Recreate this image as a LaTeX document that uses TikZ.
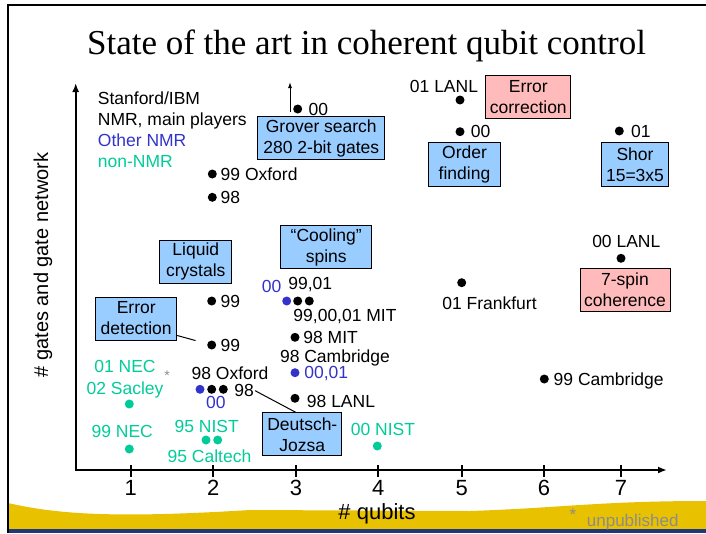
\documentclass[tikz,border=0pt]{standalone}
\usepackage{fontspec}
\setmainfont{Liberation Sans}
\newfontfamily\titlefont{Liberation Serif}
\usetikzlibrary{arrows.meta,positioning,calc}
\definecolor{otherBlue}{RGB}{51,51,204}
\definecolor{nonGreen}{RGB}{0,204,153}
\definecolor{boxBlue}{RGB}{153,204,255}
\definecolor{boxPink}{RGB}{255,187,187}
\definecolor{slideGold}{RGB}{232,193,0}
\definecolor{slideNavy}{RGB}{31,56,122}
\definecolor{noteGray}{RGB}{140,140,140}

\begin{document}
\begin{tikzpicture}[x=1pt,y=-1pt,
    txt/.style={font=\fontsize{17.5}{21}\selectfont},
    lbl/.style={txt,inner sep=1pt,text height=12.5pt,text depth=0pt},
    other/.style={lbl,text=otherBlue},
    nonnmr/.style={lbl,text=nonGreen},
    dot/.style={circle,fill=black,inner sep=0pt,minimum size=9pt},
    odot/.style={dot,fill=otherBlue},
    ndot/.style={dot,fill=nonGreen},
    box/.style={draw,line width=1pt,fill=boxBlue,align=center,txt,inner sep=0pt},
    pbox/.style={box,fill=boxPink},
    axis/.style={line width=2pt},
    arrow/.style={-{Latex[length=9pt,width=7pt]}}
  ]
  \useasboundingbox (0,0) rectangle (706,533);
  \fill[slideGold] (8,529) -- (8,503) .. controls (60,515) and (120,518) .. (250,510)
    -- (470,511) .. controls (560,508) and (600,501) .. (706,501) -- (706,529) -- cycle;
  \fill[slideNavy] (8,529) rectangle (706,533);
  \draw[line width=2pt] (8,533) -- (8,5) -- (706,5);

  \node[font=\titlefont\fontsize{35}{40}\selectfont] (title) at (366.5,46) {State of the art in coherent qubit control};

  % axes
  \coordinate (ytip) at (75.7,83);
  \coordinate (xtip) at (667,470);
  \draw[axis,{Latex[length=9pt,width=7pt]}-{Latex[length=9pt,width=7pt]}] (ytip) |- (xtip);
  \foreach \n/\x in {1/130.7,2/213.3,3/296,4/378.3,5/461.7,6/544,7/621} {
    \draw[axis] (\x,465) -- (\x,477);
    \node[font=\fontsize{22}{26}\selectfont] (tick\n) at (\x,488) {\n};
  }
  \node[font=\fontsize{20}{24}\selectfont,rotate=90] (ylab) at (43,265) {\# gates and gate network};
  \node[font=\fontsize{22}{26}\selectfont,anchor=base] (xlab) at (377,519) {\# qubits};

  \node[txt,align=left,anchor=north west,inner sep=0pt] (legend) at (97.7,91.8)
    {Stanford/IBM\\NMR, main players\\\textcolor{otherBlue}{Other NMR}\\\textcolor{nonGreen}{non-NMR}};

  % boxes
  \node[box,minimum width=127pt,minimum height=43pt] (grover) at (321.3,138) {Grover search\\280 2-bit gates};
  \node[pbox,minimum width=85pt,minimum height=43pt] (errcorr) at (528.3,96.7) {Error\\correction};
  \node[box,minimum width=72pt,minimum height=44pt] (order) at (464.5,164.7) {Order\\finding};
  \node[box,minimum width=67pt,minimum height=44pt] (shor) at (635,164.7) {Shor\\15=3x5};
  \node[pbox,minimum width=90pt,minimum height=43pt] (spin) at (625,289.7) {7-spin\\coherence};
  \node[box,minimum width=91pt,minimum height=43pt] (cooling) at (326.2,247.3) {“Cooling”\\spins};
  \node[box,minimum width=72pt,minimum height=43pt] (liquid) at (195.8,261.7) {Liquid\\crystals};
  \node[box,minimum width=81pt,minimum height=43pt] (errdet) at (136.2,318.5) {Error\\detection};
  \node[box,minimum width=79pt,minimum height=43pt] (dj) at (302.3,434.3) {Deutsch-\\Jozsa};

  % main players
  \node[dot] (d00g) at (297.7,109) {};
  \node[lbl,right=5pt of d00g] (l00g) {00};
  \coordinate (gbase) at (290,112);
  \coordinate (gtip) at (290,82);
  \draw[-{Latex[length=6pt,width=4pt]},line width=1pt] (gbase) -- (gtip);
  \node[dot] (d99ox) at (212.3,174) {};
  \node[lbl,right=2.5pt of d99ox] (l99ox) {99 Oxford};
  \node[dot] (d98a) at (212.3,197.3) {};
  \node[lbl,right=2.5pt of d98a] (l98a) {98};
  \node[dot] (dlanl01) at (460,100) {};
  \node[lbl] (llanl01) at (444,86.7) {01 LANL};
  \node[dot] (dord) at (460,131.7) {};
  \node[lbl,right=5pt of dord] (lord) {00};
  \node[dot] (dshor) at (619.3,131) {};
  \node[lbl,right=6pt of dshor] (lshor) {01};
  \node[dot] (dlanl00) at (621,258.3) {};
  \node[lbl] (llanl00) at (626.3,241.7) {00 LANL};
  \node[dot] (dfrank) at (461.7,282.7) {};
  \node[lbl] (lfrank) at (489.5,303.3) {01 Frankfurt};
  \node[dot] (dcam99) at (544.3,379) {};
  \node[lbl,right=3.5pt of dcam99] (lcam99) {99 Cambridge};
  \node[dot] (d99lc) at (211.7,301) {};
  \node[lbl,right=3pt of d99lc] (l99lc) {99};
  \node[dot] (d99ed) at (211.7,345) {};
  \node[lbl,right=3pt of d99ed] (l99ed) {99};
  \node[odot] (dmitb) at (286.7,301) {};
  \node[dot] (dmit1) at (297.7,301) {};
  \node[dot] (dmit2) at (309.3,301) {};
  \node[other] (lmitb) at (271.7,286) {00};
  \node[lbl] (lmit1) at (310.3,283) {99,01};
  \node[lbl] (lmit2) at (345,315) {99,00,01 MIT};
  \node[dot] (d98mit) at (295,337.3) {};
  \node[lbl,right=2.5pt of d98mit] (l98mit) {98 MIT};
  \node[lbl] (lcam98) at (335,356) {98 Cambridge};
  \node[odot] (dcamb) at (295,372.7) {};
  \node[other,right=3.5pt of dcamb] (lcamb) {00,01};
  \node[lbl] (loxf) at (230,373.3) {98 Oxford};
  \node[odot] (doxb) at (200,389.3) {};
  \node[dot] (dox1) at (211.7,389.3) {};
  \node[dot] (dox2) at (223.3,389.3) {};
  \node[lbl] (l98ox) at (244.2,390.7) {98};
  \node[other] (loxb) at (215.8,402.5) {00};
  \node[dot] (d98lanl) at (295,398.3) {};
  \node[lbl] (l98lanl) at (341,401) {98 LANL};

  % non-NMR
  \node[nonnmr] (lnec01) at (125,366) {01 NEC};
  \node[nonnmr] (lsac) at (125,388.3) {02 Sacley};
  \node[text=noteGray,font=\fontsize{14}{16}\selectfont,inner sep=0pt] (star) at (167,376) {*};
  \node[ndot] (dnec01) at (129.3,404) {};
  \node[nonnmr] (lnec99) at (122.2,431.7) {99 NEC};
  \node[ndot] (dnec99) at (129.3,449) {};
  \node[nonnmr] (lnist95) at (206.7,426) {95 NIST};
  \node[ndot] (dnist95) at (206,440) {};
  \node[ndot] (dcal) at (217.7,440) {};
  \node[nonnmr] (lcal) at (209.5,456) {95 Caltech};
  \node[nonnmr] (lnist00) at (383,429.3) {00 NIST};
  \node[ndot] (dnist00) at (377.3,446) {};

  \draw[line width=1pt,shorten >=12pt] ([yshift=5pt]errdet.south east) -- (d99ed);
  \draw[line width=1pt] (l98ox.east) -- ([xshift=-6.6pt]dj.north);

  \node[text=noteGray,font=\fontsize{17}{20}\selectfont,inner sep=0pt] (unstar) at (573,515) {*};
  \node[text=noteGray,font=\fontsize{17}{20}\selectfont,anchor=base west,inner sep=0pt] (unpub) at (586.7,526) {unpublished};
\end{tikzpicture}
\end{document}
